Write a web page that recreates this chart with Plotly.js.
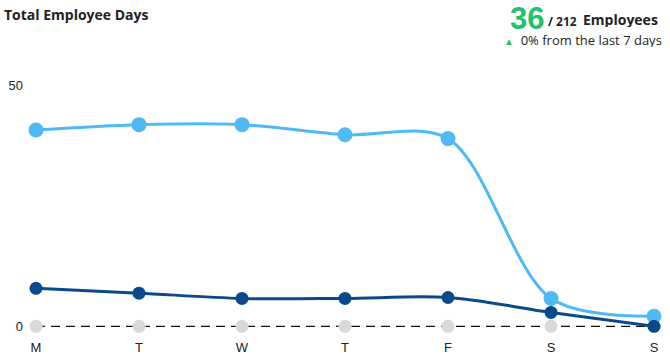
<!DOCTYPE html>
<html>
<head>
<meta charset="utf-8">
<script src="https://cdn.plot.ly/plotly-3.0.1.min.js"></script>
<style>html,body{margin:0;padding:0;background:#fff;}#chart{width:670px;height:356px;}</style>
</head>
<body>
<div id="chart"></div>
<script>
const days = ["M", "T", "W", "T", "F", "S", "S"];
const totalDays = [40.8, 41.9, 41.9, 39.8, 39.0, 5.8, 2.1];
const employeeDays = [7.9, 6.9, 5.8, 5.8, 6.0, 2.9, 0];
const baseline = [0, 0, 0, 0, 0, 0, 0];
const yTicks = [0, 50];
const idx = days.map((d, i) => i);

const traces = [
  {x: idx, y: totalDays, mode: "lines+markers", line: {color: "#4fb9f4", width: 3, shape: "spline", smoothing: 0.9}, marker: {color: "#4fb9f4", size: 15}, cliponaxis: false, hoverinfo: "y"},
  {x: idx, y: baseline, mode: "lines+markers", line: {color: "#111", width: 1.2, dash: "9px,6px"}, marker: {color: "#d9d9d9", size: 13}, cliponaxis: false, hoverinfo: "y"},
  {x: idx, y: employeeDays, mode: "lines+markers", line: {color: "#0b4a8a", width: 3, shape: "spline", smoothing: 0.9}, marker: {color: "#0b4a8a", size: 13}, cliponaxis: false, hoverinfo: "y"}
];

const F = "Open Sans, sans-serif";
function ann(text, xs, ys, size, color, h, fam) {
  const a = {xref: "paper", yref: "paper", x: 0, y: 1, xshift: xs, yshift: ys, xanchor: "left", yanchor: "middle",
          showarrow: false, text: text, font: {family: fam || F, size: size, color: color || "#222"}};
  if (h) { a.height = h; a.valign = "middle"; }
  return a;
}

const layout = {
  width: 670, height: 356,
  margin: {l: 36, r: 16, t: 76.4, b: 20.4},
  showlegend: false,
  paper_bgcolor: "#fff", plot_bgcolor: "#fff",
  font: {family: "Liberation Sans, Arial, sans-serif", size: 13, color: "#222"},
  xaxis: {range: [0, 6], tickvals: idx, ticktext: days, showgrid: false, zeroline: false, showline: false, ticks: "", ticklabelstandoff: 2, tickfont: {size: 13, color: "#222"}, fixedrange: true},
  yaxis: {range: [-2, 52], tickvals: yTicks, ticktext: yTicks.map(String), showgrid: false, zeroline: false, showline: false, ticks: "", ticklabelstandoff: 12, tickfont: {size: 13, color: "#222"}, fixedrange: true},
  annotations: [
    ann("<b>Total Employee Days</b>", -34, 62, 14),
    ann("<b>36</b>", 472, 58, 31, "#22c26a", 26, "Liberation Sans, Arial, sans-serif"),
    ann("<b>/ 212</b>", 510, 55, 12, null, 14),
    ann("<b>Employees</b>", 545, 57, 14, null, 16),
    ann("<span style='color:#22c26a;font-size:10px'>▲</span>  0% from the last 7 days", 466, 37, 13, null, 15)
  ]
};

Plotly.newPlot("chart", traces, layout, {displayModeBar: false, staticPlot: true});
</script>
</body>
</html>
